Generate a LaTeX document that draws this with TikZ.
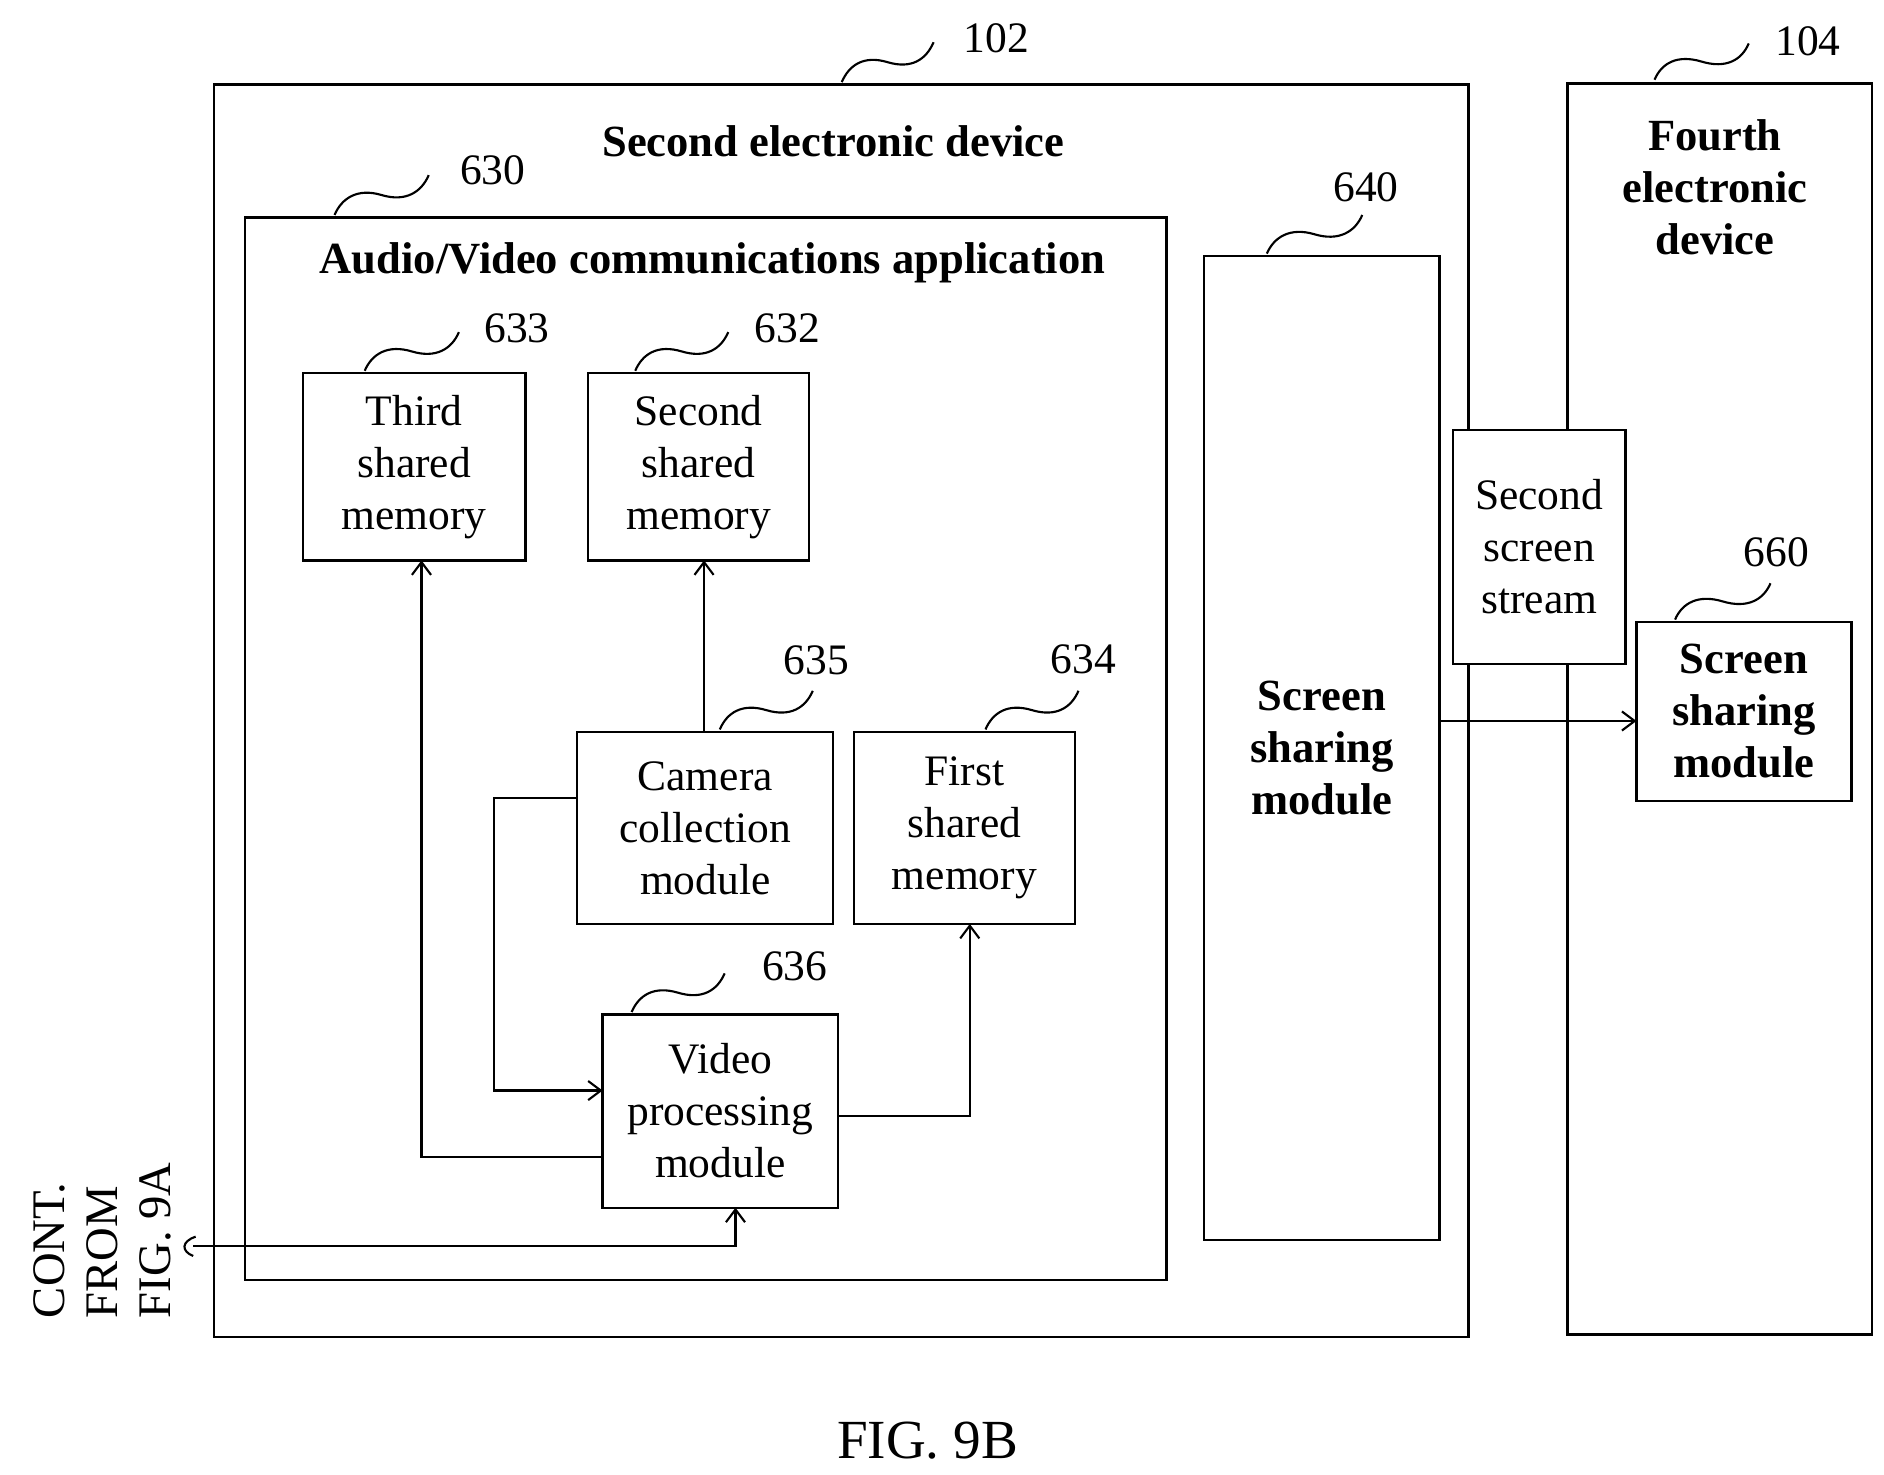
\documentclass[tikz,border=0pt]{standalone}
\usepackage{fontspec}
\setmainfont{Liberation Serif}
\usetikzlibrary{arrows.meta}
\begin{document}
\begin{tikzpicture}[x=0.02cm,y=-0.02cm,
  box/.style={draw,line width=1.1pt,inner sep=0pt,outer sep=0pt},
  txt/.style={align=center,font=\fontsize{20.5}{24.5}\selectfont},
  btxt/.style={align=center,font=\fontsize{21}{24.5}\selectfont\bfseries},
  lbl/.style={font=\fontsize{20.5}{23}\selectfont},
  con/.style={line width=1pt,-{Straight Barb[length=6pt,width=9pt]}},
  sq/.style={line width=1pt}]
\useasboundingbox (0,0) rectangle (1560,1221);
\newcommand{\squig}[4]{\draw[sq] (#1,#2) .. controls ({#1+6},{#2-14}) and ({(#1+#3)/2-20},{(#2+#4)/2-6}) .. ({(#1+#3)/2},{(#2+#4)/2}) .. controls ({(#1+#3)/2+20},{(#2+#4)/2+6}) and ({#3-6},{#4+14}) .. (#3,#4);}
\newcommand{\bx}[7]{\node[box,#7,minimum width={(#4-#2)*0.02cm},minimum height={(#5-#3)*0.02cm}] (#1) at ({(#2+#4)/2},{(#3+#5)/2}) {#6};}
% outer boxes
\bx{d102}{177}{70}{1216}{1107}{}{}
\node[lbl] (l102) at (825,32) {102}; \squig{697}{68}{773}{35}
\node[btxt] (t102) at (690,117) {Second electronic device};
\bx{d104}{1298}{69}{1550}{1105}{}{}
\node[lbl] (l104) at (1497,34) {104}; \squig{1370}{66}{1448}{36}
\node[btxt] (t104) at (1420,155) {Fourth\\electronic\\device};
\bx{a630}{203}{180}{966}{1060}{}{}
\node[lbl] (l630) at (408,141) {630}; \squig{277}{178}{355}{145}
\node[btxt] (t630) at (590,218) {Audio/Video communications application};
% inner
\bx{n633}{251}{309}{435}{464}{Third\\shared\\memory}{txt}
\node[lbl] (l633) at (428,272) {633}; \squig{302}{307}{380}{275}
\bx{n632}{487}{309}{670}{464}{Second\\shared\\memory}{txt}
\node[lbl] (l632) at (652,272) {632}; \squig{526}{307}{603}{275}
\bx{n635}{478}{606}{690}{765}{Camera\\collection\\module}{txt}
\node[lbl] (l635) at (676,547) {635}; \squig{596}{604}{673}{572}
\bx{n634}{707}{606}{890}{765}{First\\shared\\memory}{txt}
\node[lbl] (l634) at (897,546) {634}; \squig{816}{604}{893}{572}
\bx{n636}{499}{840}{694}{1000}{Video\\processing\\module}{txt}
\node[lbl] (l636) at (658,800) {636}; \squig{523}{838}{600}{806}
\bx{n640}{997}{212}{1192}{1027}{Screen\\sharing\\module}{btxt}
\node[lbl] (l640) at (1131,155) {640}; \squig{1049}{210}{1128}{178}
\bx{s2}{1203}{356}{1346}{550}{Second\\screen\\stream}{txt,fill=white}
\bx{n660}{1355}{515}{1533}{663}{Screen\\sharing\\module}{btxt}
\node[lbl] (l660) at (1471,457) {660}; \squig{1387}{513}{1466}{483}
% connectors
\draw[con] (n635.north -| 583,0) -- (n632.south -| 583,0);
\draw[con] (n635.west |- 0,661) -| (409,903) -- (n636.west |- 0,903);
\draw[con] (n636.west |- 0,958) -| (n633.south -| 349,0);
\draw[con] (n636.east |- 0,924) -| (n634.south -| 803,0);
\coordinate (in) at (160,1032);
\draw[con] (in) -| (n636.south -| 609,0);
\draw[con] (n640.east |- 0,597) -- (n660.west |- 0,597);
\draw[sq] (162,1024) .. controls (150,1028) and (150,1036) .. (160,1040);
% continuation
\node[txt,rotate=90,align=left,font=\fontsize{22}{25}\selectfont] (cont) at (85,1027) {CONT.\\FROM\\FIG. 9A};
\node[font=\fontsize{26}{30}\selectfont] (fig) at (768,1193) {FIG. 9B};
\end{tikzpicture}
\end{document}
